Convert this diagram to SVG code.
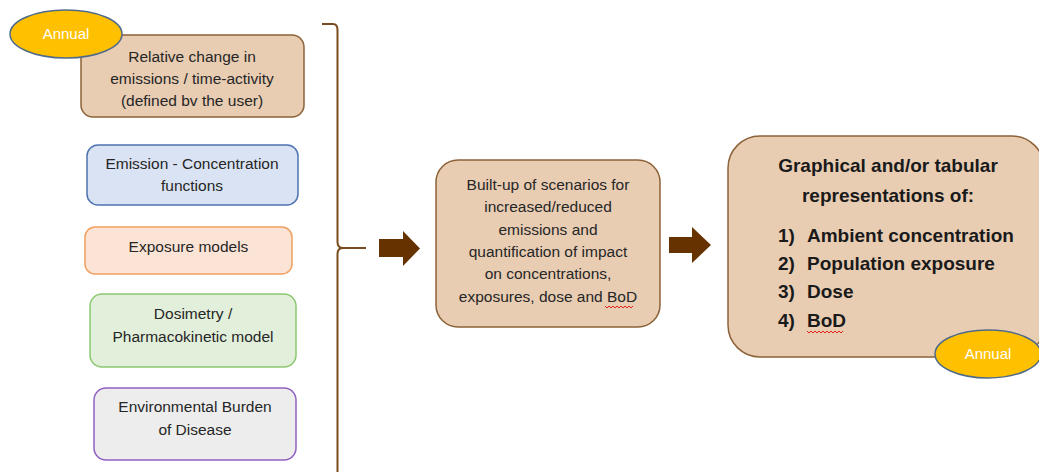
<svg xmlns="http://www.w3.org/2000/svg" width="1039" height="472" viewBox="0 0 1039 472">
<style>
text{font-family:"Liberation Sans",Arial,sans-serif;font-size:15.5px;fill:#262626;text-anchor:middle}
.tan{fill:#e8cdb3;stroke:#8c6239;stroke-width:1.5}
.ann{fill:#ffc000;stroke:#4f6b8a;stroke-width:1.5}
.annt{fill:#ffffff;font-size:15px}
.b{font-weight:bold;font-size:19px;fill:#1a1a1a}
.l{text-anchor:start}
.arr{fill:#663300}
.sq{fill:none;stroke:#e02020;stroke-width:1}
</style>
<rect width="1039" height="472" fill="#ffffff"/>
<g id="connectors">
<path d="M322 24 H333 Q337.5 24 337.5 30 V242 Q337.5 248 343 248 H366 M343 248 Q337.5 248 337.5 254 V472" fill="none" stroke="#7a4a1e" stroke-width="2"/>
<polygon class="arr" points="379,239 403,239 403,231 420,248.5 403,266 403,257 379,257"/>
<polygon class="arr" points="669,237 692,237 692,227 711,245 692,263 692,253 669,253"/>
</g>
<g id="node-relative">
<rect class="tan" x="81" y="35" width="223" height="82" rx="12"/>
<text x="192" y="62">Relative change in</text>
<text x="192" y="84">emissions / time-activity</text>
<text x="192" y="106">(defined bv the user)</text>
</g>
<g id="node-annual1">
<ellipse class="ann" cx="66" cy="34" rx="56" ry="24"/>
<text class="annt" x="66" y="39">Annual</text>
</g>
<g id="node-emission">
<rect x="87" y="145" width="211" height="60" rx="11" fill="#dae3f3" stroke="#4f73b0" stroke-width="1.5"/>
<text x="192" y="169">Emission - Concentration</text>
<text x="192" y="191">functions</text>
</g>
<g id="node-exposure">
<rect x="85" y="227" width="207" height="47" rx="10" fill="#fbe4d5" stroke="#f0a060" stroke-width="1.5"/>
<text x="188.5" y="252">Exposure models</text>
</g>
<g id="node-dosimetry">
<rect x="90" y="294" width="206" height="73" rx="12" fill="#e2efda" stroke="#8cc870" stroke-width="1.5"/>
<text x="193" y="319">Dosimetry /</text>
<text x="193" y="342">Pharmacokinetic model</text>
</g>
<g id="node-ebd">
<rect x="94" y="388" width="202" height="72" rx="12" fill="#ededed" stroke="#9060c0" stroke-width="1.5"/>
<text x="195" y="412">Environmental Burden</text>
<text x="195" y="435">of Disease</text>
</g>
<g id="node-scenarios">
<rect class="tan" x="436" y="160" width="224" height="167" rx="22"/>
<text x="548" y="190">Built-up of scenarios for</text>
<text x="548" y="212">increased/reduced</text>
<text x="548" y="235">emissions and</text>
<text x="548" y="257">quantification of impact</text>
<text x="548" y="279">on concentrations,</text>
<text x="548" y="302">exposures, dose and BoD</text>
<path class="sq" d="M605 306 l2 2 l2 -2 l2 2 l2 -2 l2 2 l2 -2 l2 2 l2 -2 l2 2 l2 -2 l2 2 l2 -2 l2 2 l2 -2"/>
</g>
<g id="node-output">
<rect class="tan" x="728" y="136" width="316" height="221" rx="32"/>
<text class="b" x="888" y="172">Graphical and/or tabular</text>
<text class="b" x="888" y="202">representations of:</text>
<text class="b l" x="778" y="242">1)</text>
<text class="b l" x="807" y="242">Ambient concentration</text>
<text class="b l" x="778" y="270">2)</text>
<text class="b l" x="807" y="270">Population exposure</text>
<text class="b l" x="778" y="298">3)</text>
<text class="b l" x="807" y="298">Dose</text>
<text class="b l" x="778" y="327">4)</text>
<text class="b l" x="807" y="327">BoD</text>
<path class="sq" d="M807 331 l2 2 l2 -2 l2 2 l2 -2 l2 2 l2 -2 l2 2 l2 -2 l2 2 l2 -2 l2 2 l2 -2 l2 2 l2 -2 l2 2 l2 -2 l2 2 l2 -2"/>
</g>
<g id="node-annual2">
<ellipse class="ann" cx="988" cy="354" rx="53" ry="24"/>
<text class="annt" x="988" y="359">Annual</text>
</g>
</svg>
